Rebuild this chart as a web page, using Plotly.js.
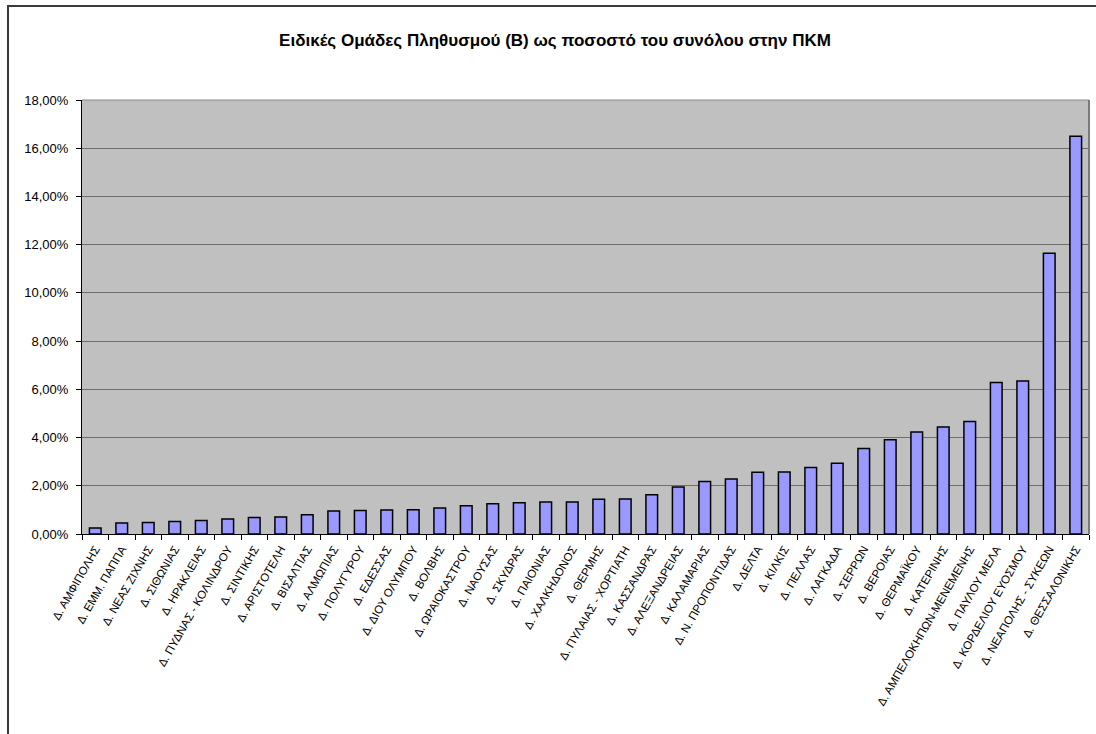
<!DOCTYPE html>
<html>
<head>
<meta charset="utf-8">
<script src="https://cdn.plot.ly/plotly-3.0.1.min.js"></script>
<style>
  html, body { margin: 0; padding: 0; background: #fff; overflow: hidden; }
  #wrap { position: relative; width: 1096px; height: 734px; overflow: hidden; }
  #chart { position: absolute; left: 0; top: 0; width: 1096px; height: 734px; }
  /* outer chart-area frame, runs off the right and bottom edges */
  #frame { position: absolute; left: 7px; top: 5px; width: 1200px; height: 900px;
           border: 2px solid #3a3a3a; pointer-events: none; }
</style>
</head>
<body>
<div id="wrap">
  <div id="chart"></div>
  <div id="frame"></div>
</div>
<script>
// Municipalities of Central Macedonia (ΠΚΜ), ascending share
const municipalities = [
  "Δ. ΑΜΦΙΠΟΛΗΣ", "Δ. ΕΜΜ. ΠΑΠΠΑ", "Δ. ΝΕΑΣ ΖΙΧΝΗΣ", "Δ. ΣΙΘΩΝΙΑΣ", "Δ. ΗΡΑΚΛΕΙΑΣ",
  "Δ. ΠΥΔΝΑΣ - ΚΟΛΙΝΔΡΟΥ", "Δ. ΣΙΝΤΙΚΗΣ", "Δ. ΑΡΙΣΤΟΤΕΛΗ", "Δ. ΒΙΣΑΛΤΙΑΣ", "Δ. ΑΛΜΩΠΙΑΣ",
  "Δ. ΠΟΛΥΓΥΡΟΥ", "Δ. ΕΔΕΣΣΑΣ", "Δ. ΔΙΟΥ ΟΛΥΜΠΟΥ", "Δ. ΒΟΛΒΗΣ", "Δ. ΩΡΑΙΟΚΑΣΤΡΟΥ",
  "Δ. ΝΑΟΥΣΑΣ", "Δ. ΣΚΥΔΡΑΣ", "Δ. ΠΑΙΟΝΙΑΣ", "Δ. ΧΑΛΚΗΔΟΝΟΣ", "Δ. ΘΕΡΜΗΣ",
  "Δ. ΠΥΛΑΙΑΣ - ΧΟΡΤΙΑΤΗ", "Δ. ΚΑΣΣΑΝΔΡΑΣ", "Δ. ΑΛΕΞΑΝΔΡΕΙΑΣ", "Δ. ΚΑΛΑΜΑΡΙΑΣ", "Δ. Ν. ΠΡΟΠΟΝΤΙΔΑΣ",
  "Δ. ΔΕΛΤΑ", "Δ. ΚΙΛΚΙΣ", "Δ. ΠΕΛΛΑΣ", "Δ. ΛΑΓΚΑΔΑ", "Δ. ΣΕΡΡΩΝ",
  "Δ. ΒΕΡΟΙΑΣ", "Δ. ΘΕΡΜΑΪΚΟΥ", "Δ. ΚΑΤΕΡΙΝΗΣ", "Δ. ΑΜΠΕΛΟΚΗΠΩΝ-ΜΕΝΕΜΕΝΗΣ", "Δ. ΠΑΥΛΟΥ ΜΕΛΑ",
  "Δ. ΚΟΡΔΕΛΙΟΥ ΕΥΟΣΜΟΥ", "Δ. ΝΕΑΠΟΛΗΣ - ΣΥΚΕΩΝ", "Δ. ΘΕΣΣΑΛΟΝΙΚΗΣ"
];

// Share of special population groups (B), percent of regional total
const sharePercent = [
  0.25, 0.46, 0.48, 0.52, 0.56,
  0.62, 0.68, 0.71, 0.80, 0.95,
  0.97, 1.00, 1.01, 1.08, 1.17,
  1.25, 1.30, 1.33, 1.33, 1.44,
  1.45, 1.63, 1.95, 2.18, 2.28,
  2.56, 2.57, 2.76, 2.93, 3.55,
  3.91, 4.23, 4.44, 4.67, 6.28,
  6.35, 11.64, 16.50
];

const chartTitle = "Ειδικές Ομάδες Πληθυσμού (Β) ως ποσοστό του συνόλου στην ΠΚΜ";
const yTickValues = [0, 2, 4, 6, 8, 10, 12, 14, 16, 18];
// Greek-style percent labels: comma decimal separator
const yTickLabels = yTickValues.map(v => v.toFixed(2).replace(".", ",") + "%");

const trace = {
  type: "bar",
  x: municipalities,
  y: sharePercent,
  marker: { color: "#9999FF", line: { color: "#000000", width: 1.5 } },
  hoverinfo: "x+y"
};

const layout = {
  width: 1096,
  height: 734,
  margin: { l: 82, r: 7, t: 100, b: 200, pad: 0 },
  paper_bgcolor: "rgba(0,0,0,0)",
  plot_bgcolor: "#C0C0C0",
  bargap: 0.56,
  showlegend: false,
  font: { family: "Liberation Sans, Arial, sans-serif", color: "#000" },
  title: {
    text: "<b>" + chartTitle + "</b>",
    xref: "container", x: 0.5064, xanchor: "center",
    yref: "container", y: 1 - 40 / 734, yanchor: "middle",
    font: { family: "Liberation Sans, Arial, sans-serif", size: 17, color: "#000", weight: 700 }
  },
  xaxis: {
    type: "category",
    tickangle: -60,
    tickfont: { size: 11.5, family: "Liberation Sans, Arial, sans-serif" },
    ticks: "outside",
    tickson: "boundaries",
    ticklen: 5,
    tickcolor: "#000",
    ticklabelstandoff: 3,
    showline: true,
    linecolor: "#000",
    linewidth: 1,
    showgrid: false,
    fixedrange: true
  },
  yaxis: {
    range: [0, 18],
    tickmode: "array",
    tickvals: yTickValues,
    ticktext: yTickLabels,
    tickfont: { size: 13, family: "Liberation Sans, Arial, sans-serif" },
    ticks: "outside",
    ticklen: 5,
    tickcolor: "#000",
    ticklabelstandoff: 5,
    showline: true,
    linecolor: "#000",
    linewidth: 1,
    showgrid: true,
    gridcolor: "#6e6e6e",
    gridwidth: 1,
    zeroline: false,
    fixedrange: true
  },
  shapes: [
    // plot-area border (top and right edges)
    { type: "line", xref: "paper", yref: "paper", x0: 0, x1: 1, y0: 1, y1: 1,
      line: { color: "#8a8a8a", width: 1 } },
    { type: "line", xref: "paper", yref: "paper", x0: 1, x1: 1, y0: 0, y1: 1,
      line: { color: "#7a7a7a", width: 2 } }
  ]
};

Plotly.newPlot("chart", [trace], layout, { displayModeBar: false, staticPlot: true });
</script>
</body>
</html>
